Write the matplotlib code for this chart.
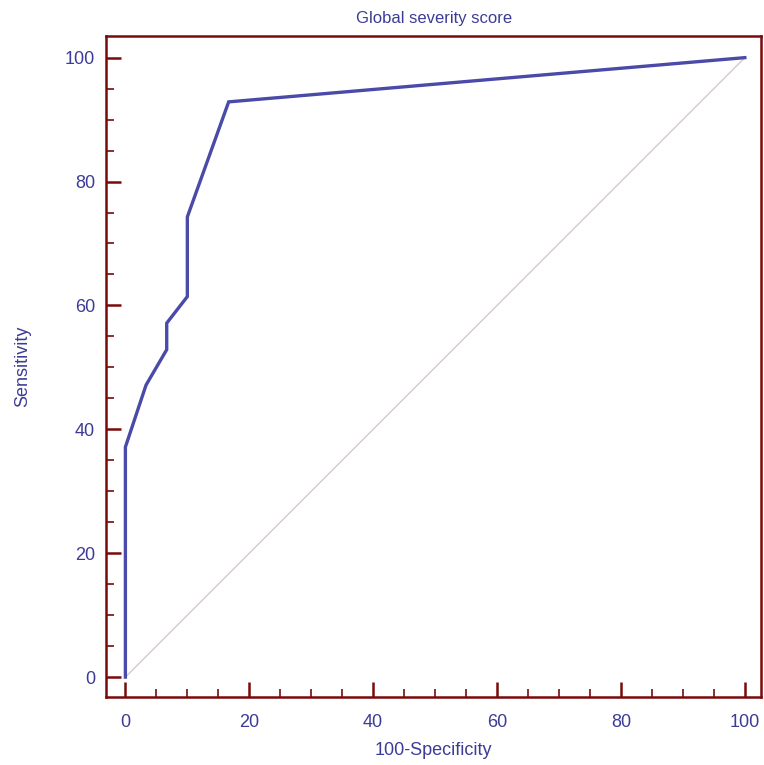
import numpy as np
import matplotlib
matplotlib.use('Agg')
import matplotlib.pyplot as plt
from matplotlib.ticker import MultipleLocator

plt.rcParams['font.family'] = ['Liberation Sans', 'DejaVu Sans']

# ROC curve points (100-Specificity, Sensitivity)
fpr = [0, 0, 3.33, 6.67, 6.67, 10.0, 10.0, 16.67, 100]
tpr = [0, 37.14, 47.14, 52.86, 57.14, 61.43, 74.29, 92.86, 100]
diag = [0, 100]

line_col = '#4a4aa8'
frame_col = '#7a0a0a'
text_col = '#3c3c96'

fig = plt.figure(figsize=(7.64, 7.65), dpi=100)
ax = fig.add_axes([0.139, 0.089, 0.857, 0.864])

ax.plot(diag, diag, color='#d8c8c8', linewidth=1.0)
ax.plot(fpr, tpr, color=line_col, linewidth=2.4, solid_joinstyle='miter')

ax.set_xlim(-3.1, 102.6)
ax.set_ylim(-3.2, 103.5)
ax.xaxis.set_major_locator(MultipleLocator(20))
ax.xaxis.set_minor_locator(MultipleLocator(5))
ax.yaxis.set_major_locator(MultipleLocator(20))
ax.yaxis.set_minor_locator(MultipleLocator(5))

for s in ax.spines.values():
    s.set_color(frame_col)
    s.set_linewidth(1.8)

ax.tick_params(which='major', direction='in', length=11, width=1.8, color=frame_col,
               labelcolor=text_col, labelsize=13, pad=8)
ax.tick_params(axis='x', which='major', pad=12)
ax.tick_params(which='minor', direction='in', length=6, width=1.2, color=frame_col)

ax.set_xlabel('100-Specificity', color=text_col, fontsize=13, labelpad=8)
ax.set_ylabel('Sensitivity', color=text_col, fontsize=13, labelpad=24)
ax.set_title('Global severity score', color=text_col, fontsize=12, pad=9)

fig.savefig('out.png', dpi=100)
